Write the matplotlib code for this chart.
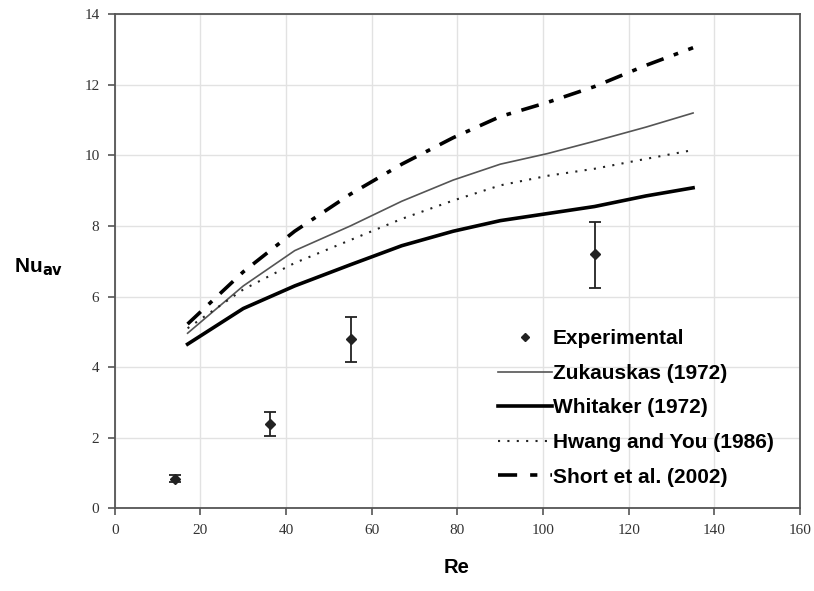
import matplotlib
matplotlib.use("Agg")
import matplotlib.pyplot as plt
from matplotlib.lines import Line2D

# Experimental points with error bars
re_exp = [14.0, 36.3, 55.1, 112.0]
nu_exp = [0.83, 2.38, 4.80, 7.20]
nu_err_low = [0.10, 0.33, 0.65, 0.95]
nu_err_high = [0.10, 0.35, 0.62, 0.90]

# Correlation curves
re_corr = [17, 30, 42, 55, 67, 79, 90, 101, 112, 124, 135]
nu_zukauskas = [4.96, 6.30, 7.30, 8.00, 8.70, 9.30, 9.75, 10.05, 10.40, 10.80, 11.20]
nu_whitaker = [4.65, 5.66, 6.30, 6.90, 7.44, 7.85, 8.15, 8.35, 8.55, 8.85, 9.08]
nu_hwang = [5.10, 6.20, 6.95, 7.60, 8.20, 8.72, 9.15, 9.42, 9.62, 9.90, 10.15]
nu_short = [5.22, 6.70, 7.85, 8.90, 9.75, 10.50, 11.10, 11.50, 11.95, 12.55, 13.05]

x_ticks = [0, 20, 40, 60, 80, 100, 120, 140, 160]
y_ticks = [0, 2, 4, 6, 8, 10, 12, 14]

short_style = (0, (5, 3, 1.3, 3))
short_legend_style = (0, (5.3, 3.6, 2, 3.6))
dot_style = (0, (1, 3.5))

fig = plt.figure(figsize=(8.14, 5.91), dpi=100)
ax = fig.add_axes([0.141, 0.140, 0.842, 0.836])

ax.plot(re_corr, nu_zukauskas, color="#555555", lw=1.2)
ax.plot(re_corr, nu_whitaker, color="black", lw=2.6)
ax.plot(re_corr, nu_hwang, color="#222222", lw=1.5, linestyle=dot_style)
ax.plot(re_corr, nu_short, color="black", lw=2.6, linestyle=short_style)
ax.errorbar(re_exp, nu_exp, yerr=[nu_err_low, nu_err_high], fmt="D", color="#222222",
            ms=5, capsize=4, elinewidth=1.3, capthick=1.3)

ax.set_xlim(0, 160)
ax.set_ylim(0, 14)
ax.set_xticks(x_ticks)
ax.set_yticks(y_ticks)
ax.grid(True, color="#e2e2e2", lw=1.0)
ax.set_axisbelow(True)
for s in ax.spines.values():
    s.set_color("#555555")
    s.set_linewidth(1.3)
ax.tick_params(direction="out", length=5, width=1.2, color="#555555",
               labelsize=11, labelcolor="#333333", pad=6)
for lbl in ax.get_xticklabels() + ax.get_yticklabels():
    lbl.set_fontfamily("Liberation Serif")

fig.text(0.047, 0.548, r"Nu$_{\mathbf{av}}$", fontsize=15, fontweight="bold",
         family="Liberation Sans", ha="center", va="center")
fig.text(0.561, 0.024, "Re", fontsize=14.5, fontweight="bold",
         family="Liberation Sans", ha="center", va="bottom")

handles = [
    Line2D([], [], marker="D", color="#222222", ms=4, linestyle="none"),
    Line2D([], [], color="#555555", lw=1.2),
    Line2D([], [], color="black", lw=2.6),
    Line2D([], [], color="#222222", lw=1.5, linestyle=dot_style),
    Line2D([], [], color="black", lw=2.6, linestyle=short_legend_style),
]
labels = ["Experimental", "Zukauskas (1972)", "Whitaker (1972)",
          "Hwang and You (1986)", "Short et al. (2002)"]
leg = ax.legend(handles, labels, loc="center left", bbox_to_anchor=(0.559, 0.203),
                frameon=False, borderpad=0, borderaxespad=0,
                handlelength=2.6, handletextpad=0.05,
                labelspacing=0.75, prop={"family": "Liberation Sans",
                                         "weight": "bold", "size": 15})

fig.savefig("out.png", dpi=100)
